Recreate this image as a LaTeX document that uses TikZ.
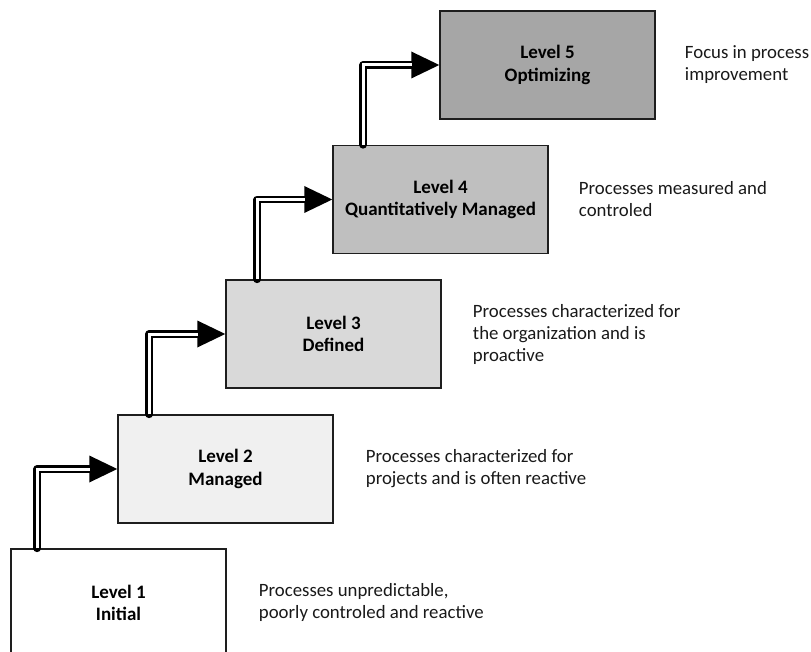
\documentclass[tikz,border=0pt]{standalone}
\usepackage{fontspec}
\setmainfont{Carlito}
\usetikzlibrary{arrows.meta}

% grey ramp for the maturity levels
\definecolor{lvlone}{HTML}{FFFFFF}
\definecolor{lvltwo}{HTML}{F0F0F0}
\definecolor{lvlthree}{HTML}{D9D9D9}
\definecolor{lvlfour}{HTML}{BFBFBF}
\definecolor{lvlfive}{HTML}{A6A6A6}
\definecolor{edge}{HTML}{1E1E1E}

\tikzset{
  levelbox/.style={draw=edge, line width=1.5pt, minimum width=215pt, minimum height=108pt,
    inner sep=0pt, align=center, font=\fontsize{19}{22.5}\selectfont\bfseries},
  note/.style={anchor=west, align=left, inner sep=0pt, text=black!90,
    font=\fontsize{18.8}{22}\selectfont},
  stairout/.style={draw=black, line width=7.8pt, line cap=round, line join=round,
    -{Triangle[length=28pt,width=27pt,line width=0pt]}},
  stairin/.style={draw=white, line width=3pt, line cap=butt, line join=miter, shorten >=27pt},
}

\begin{document}
\begin{tikzpicture}[x=1pt,y=-1pt]
  \useasboundingbox (0,0) rectangle (811,652);
  \clip (0,0) rectangle (811,652);

  % the five levels, stepping up to the right
  \node[levelbox, fill=lvlone]   (l1) at (118.5,603) {Level 1\\Initial};
  \node[levelbox, fill=lvltwo]   (l2) at (225.5,469) {Level 2\\Managed};
  \node[levelbox, fill=lvlthree] (l3) at (333.5,334) {Level 3\\Defined};
  \node[levelbox, fill=lvlfour]  (l4) at (440.5,199.5) {Level 4\\Quantitatively Managed};
  \node[levelbox, fill=lvlfive]  (l5) at (547.5,65) {Level 5\\Optimizing};

  % descriptions beside each level
  \node[note] (d1) at ([xshift=32pt]l1.east |- 0,602) {Processes unpredictable,\\poorly controled and reactive};
  \node[note] (d2) at ([xshift=32pt]l2.east) {Processes characterized for\\projects and is often reactive};
  \node[note] (d3) at ([xshift=31pt]l3.east) {Processes characterized for\\the organization and is\\proactive};
  \node[note] (d4) at ([xshift=30pt]l4.east) {Processes measured and\\controled};
  \node[note] (d5) at ([xshift=29pt]l5.east) {Focus in process\\improvement};

  % hollow stair arrows from one level to the next
  \foreach \from/\to/\off in {l1/l2/27, l2/l3/32, l3/l4/32, l4/l5/31} {
    \draw[stairout] ([xshift=\off pt]\from.north west) |- (\to.west);
    \draw[stairin]  ([xshift=\off pt]\from.north west) |- (\to.west);
  }
\end{tikzpicture}
\end{document}
